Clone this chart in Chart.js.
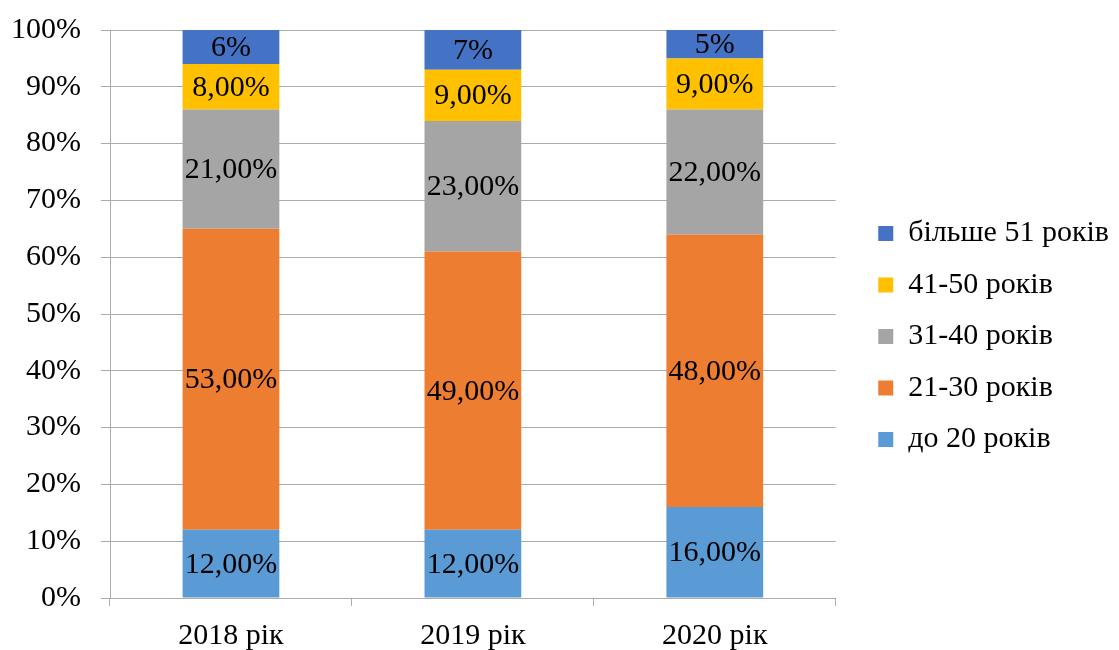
<!DOCTYPE html>
<html>
<head>
<meta charset="utf-8">
<script src="https://cdn.jsdelivr.net/npm/chart.js@4"></script>
<style>
  body { margin: 0; background: #fff; }
  #wrap { width: 1119px; height: 650px; }
</style>
</head>
<body>
<div id="wrap"><canvas id="chart"></canvas></div>
<script>
const years = ["2018 рік", "2019 рік", "2020 рік"];
const under20 = [12, 12, 16];
const from21to30 = [53, 49, 48];
const from31to40 = [21, 23, 22];
const from41to50 = [8, 9, 9];
const over51 = [6, 7, 5];
const yTicks = [0, 10, 20, 30, 40, 50, 60, 70, 80, 90, 100];

const serif = "'Liberation Serif', 'Times New Roman', serif";
const gridGray = "#ABABAB";
const fontSize = 30;

function makeSet(label, values, color, decimals) {
  return {
    label: label,
    data: values,
    backgroundColor: color,
    borderWidth: 0,
    decimals: decimals,
  };
}

// labels in the middle of every segment
const segmentLabels = {
  id: "segmentLabels",
  afterDatasetsDraw(chart) {
    const ctx = chart.ctx;
    ctx.save();
    ctx.font = fontSize + "px " + serif;
    ctx.fillStyle = "#000";
    ctx.textAlign = "center";
    ctx.textBaseline = "middle";
    chart.data.datasets.forEach((ds, i) => {
      const meta = chart.getDatasetMeta(i);
      meta.data.forEach((bar, j) => {
        const v = ds.data[j];
        const txt = v.toFixed(ds.decimals).replace(".", ",") + "%";
        ctx.fillText(txt, bar.x, (bar.y + bar.base) / 2 + 1);
      });
    });
    ctx.restore();
  },
};

// push legend a bit like the original
const legendNudge = {
  id: "legendNudge",
  afterLayout(chart) {
    const lg = chart.legend;
    lg.left += 21;
    lg.right += 21;
    lg.top -= 3.5;
    lg.bottom -= 3.5;
  },
};

new Chart(document.getElementById("chart").getContext("2d"), {
  type: "bar",
  data: {
    labels: years,
    datasets: [
      makeSet("до 20 років", under20, "#5B9BD5", 2),
      makeSet("21-30 років", from21to30, "#ED7D31", 2),
      makeSet("31-40 років", from31to40, "#A5A5A5", 2),
      makeSet("41-50 років", from41to50, "#FFC000", 2),
      makeSet("більше 51 років", over51, "#4472C4", 0),
    ],
  },
  options: {
    responsive: true,
    maintainAspectRatio: false,
    animation: false,
    layout: { padding: { top: 30, right: 21, bottom: 0, left: 8 } },
    datasets: { bar: { barPercentage: 0.4, categoryPercentage: 1 } },
    scales: {
      x: {
        stacked: true,
        afterFit(axis) {
          axis.height = 52;
        },
        grid: {
          drawOnChartArea: false,
          drawTicks: true,
          tickLength: 8,
          color: gridGray,
        },
        border: { color: gridGray },
        ticks: { color: "#000", font: { family: serif, size: fontSize }, padding: 12 },
      },
      y: {
        stacked: true,
        min: 0,
        max: 100,
        afterFit(axis) {
          axis.width = 102;
          axis.paddingTop = 0;
          axis.paddingBottom = 0;
        },
        afterBuildTicks(axis) {
          axis.ticks = yTicks.map((v) => ({ value: v }));
        },
        grid: { color: gridGray, tickLength: 9 },
        border: { color: gridGray },
        ticks: {
          color: "#000",
          font: { family: serif, size: fontSize },
          padding: 20,
          callback: (v) => v + "%",
        },
      },
    },
    plugins: {
      tooltip: { enabled: false },
      legend: {
        position: "right",
        reverse: true,
        labels: {
          color: "#000",
          font: { family: serif, size: fontSize },
          boxWidth: 15,
          boxHeight: 15,
          padding: 21.5,
        },
      },
    },
  },
  plugins: [segmentLabels, legendNudge],
});
</script>
</body>
</html>
